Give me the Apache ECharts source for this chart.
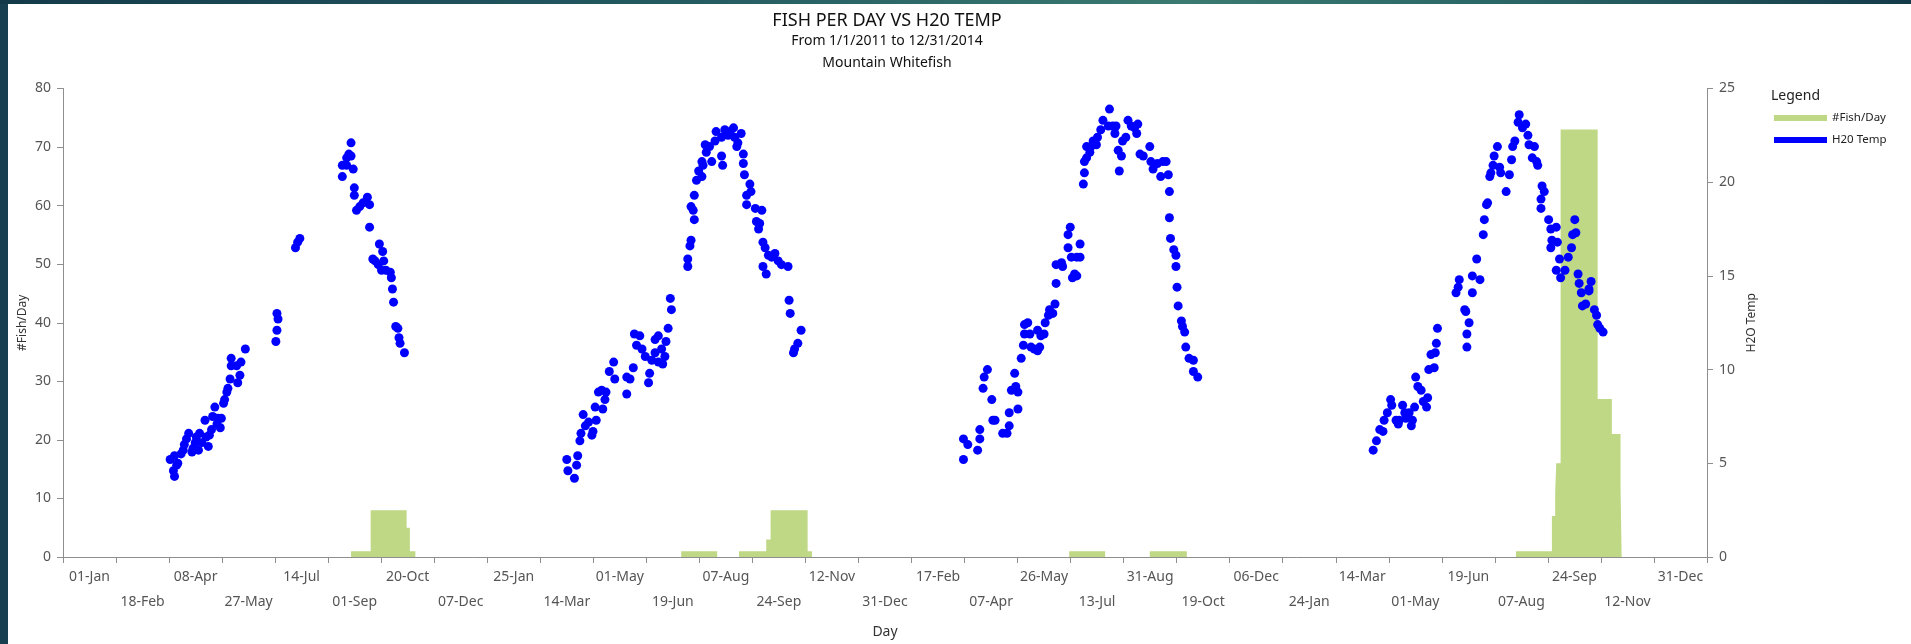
<!DOCTYPE html>
<html>
<head>
<meta charset="utf-8">
<script src="https://cdn.jsdelivr.net/npm/echarts@6/dist/echarts.min.js"></script>
<style>
html,body{margin:0;padding:0;width:1911px;height:644px;overflow:hidden;background:#173f4f;}
#topbar{position:absolute;left:0;top:0;width:1911px;height:4px;background:linear-gradient(to right,#143a4a 0%,#245a62 35%,#3a7a70 62%,#2a6466 80%,#143a4a 100%);}
#paper{position:absolute;left:8px;top:4px;width:1903px;height:640px;background:#ffffff;}
#chart{position:absolute;left:0;top:0;width:1911px;height:644px;}
</style>
</head>
<body>
<div id="topbar"></div>
<div id="paper"></div>
<div id="chart"></div>
<script>
// ---- Tick labels of the Day axis (one per band, every 1460/30 days from 01-Jan-2011) ----
const xTickLabels = ['01-Jan','18-Feb','08-Apr','27-May','14-Jul','01-Sep','20-Oct','07-Dec',
  '25-Jan','14-Mar','01-May','19-Jun','07-Aug','24-Sep','12-Nov','31-Dec',
  '17-Feb','07-Apr','26-May','13-Jul','31-Aug','19-Oct','06-Dec',
  '24-Jan','14-Mar','01-May','19-Jun','07-Aug','24-Sep','12-Nov','31-Dec'];
const startYear = 2011;
const totalDays = 1460; // 01-Jan-2011 .. 31-Dec-2014

// ---- H20 Temp readings: [days after 1 Jan of the year, temperature] ----
const temp2011 = [[78,4.3],[77,4.6],[80,4.9],[74,5.2],[81,5.0],[78,5.4],[84,5.5],[86,5.7],[87,6.0],[89,6.3],
  [91,6.6],[94,5.6],[95,5.8],[97,6.1],[98,6.4],[100,5.7],[101,6.6],[103,6.1],[106,7.3],[107,6.4],
  [109,5.9],[110,6.5],[112,6.8],[113,7.5],[115,8.0],[117,7.1],[118,7.4],[120,6.9],[121,7.4],[123,8.2],
  [124,8.4],[126,8.8],[127,9.0],[129,9.5],[130,10.2],[130,10.6],[135,10.2],[136,9.3],[138,9.7],[139,10.4],
  [143,11.1],[172,13.0],[173,12.7],[172,12.1],[171,11.5],[189,16.5],[191,16.8],[193,17.0],[240,22.1],[238,21.5],
  [240,21.4],[236,21.3],[232,20.9],[236,20.9],[242,20.7],[232,20.3],[243,19.7],[243,19.3],[255,19.2],[251,18.9],
  [257,18.8],[248,18.7],[245,18.5],[257,17.6],[266,16.7],[269,16.3],[260,15.9],[262,15.8],[265,15.6],[270,15.8],
  [268,15.3],[272,15.3],[276,15.2],[277,14.9],[278,14.3],[279,13.6],[281,12.3],[283,12.2],[284,11.7],[285,11.4],[289,10.9]];
const temp2012 = [[80,4.2],[74,4.6],[82,4.9],[73,5.2],[83,5.4],[85,6.2],[86,6.6],[90,7.0],[88,7.6],[93,7.2],
  [96,6.5],[97,6.7],[100,7.3],[99,8.0],[102,8.8],[105,8.9],[108,8.4],[106,7.9],[109,8.8],[112,9.9],
  [116,10.4],[117,9.5],[128,8.7],[128,9.6],[131,9.5],[134,10.1],[135,11.9],[140,11.8],[137,11.3],[142,11.1],
  [145,10.7],[149,9.8],[148,9.3],[151,10.5],[154,11.6],[157,11.8],[154,10.9],[157,10.4],[160,11.1],[163,10.7],
  [161,10.3],[164,11.5],[166,12.2],[168,13.8],[169,13.2],[184,15.5],[184,15.9],[186,16.6],[187,16.9],[190,18.0],
  [189,18.5],[187,18.7],[190,19.3],[192,20.1],[197,20.3],[194,20.6],[197,21.1],[198,20.9],[201,21.6],[200,22.0],
  [204,21.9],[206,21.1],[209,22.2],[210,22.7],[215,22.4],[218,22.8],[221,22.5],[223,22.7],[226,22.9],[227,22.4],
  [230,22.1],[233,22.6],[229,21.9],[215,21.4],[216,20.9],[235,21.5],[235,21.0],[236,20.4],[241,19.9],[242,19.5],
  [238,19.3],[238,18.8],[246,18.6],[252,18.5],[247,17.9],[250,17.8],[249,17.5],[253,16.8],[255,16.5],[258,16.1],
  [261,16.0],[264,16.2],[267,15.8],[270,15.6],[276,15.5],[253,15.5],[256,15.1],[277,13.7],[278,13.0],[288,12.1],
  [285,11.4],[282,11.1],[281,10.9]];
const temp2013 = [[71,5.2],[71,6.3],[75,6.0],[84,5.7],[86,6.3],[86,6.8],[89,9.0],[90,9.6],[93,10.0],[97,8.4],
  [98,7.3],[100,7.3],[107,6.6],[111,6.6],[113,7.0],[113,7.7],[115,8.9],[118,9.8],[119,9.1],[121,8.8],
  [121,7.9],[124,10.6],[126,11.3],[127,11.9],[127,12.4],[130,12.5],[132,11.9],[133,11.2],[136,11.1],[139,11.0],
  [141,11.2],[139,12.1],[142,11.8],[145,11.9],[146,12.5],[149,12.9],[150,13.2],[153,13.0],[155,13.5],[156,14.6],
  [156,15.6],[161,15.7],[162,15.5],[167,16.5],[167,17.2],[169,17.6],[170,16.0],[175,16.0],[178,16.0],[178,16.7],
  [171,14.9],[173,15.1],[175,15.0],[181,19.9],[182,20.5],[182,21.1],[184,21.3],[184,21.9],[187,21.6],[188,21.9],
  [190,22.2],[193,22.0],[194,22.4],[197,22.8],[199,23.3],[204,23.0],[205,23.9],[208,23.0],[211,23.0],[210,22.6],
  [213,21.7],[216,21.4],[214,20.6],[217,22.2],[220,22.4],[222,23.3],[225,23.0],[228,22.9],[230,22.6],[231,23.1],
  [233,21.5],[236,21.4],[242,21.9],[243,21.1],[245,20.7],[249,21.0],[252,20.3],[254,21.1],[257,21.1],[259,20.4],
  [260,19.5],[260,18.1],[261,17.0],[264,16.4],[266,16.1],[266,15.5],[267,14.4],[268,13.4],[271,12.6],[272,12.3],
  [274,12.0],[275,11.2],[278,10.6],[282,10.5],[282,9.9],[286,9.6]];
const temp2014 = [[82,5.7],[85,6.2],[88,6.8],[91,6.7],[92,7.3],[95,7.7],[98,8.4],[99,8.1],[103,7.3],[105,7.1],
  [106,7.3],[109,8.1],[111,7.7],[112,7.4],[115,7.7],[117,7.0],[118,7.3],[120,8.0],[121,9.6],[123,9.1],
  [126,8.9],[128,8.3],[131,8.0],[132,8.5],[133,10.0],[135,10.8],[138,10.1],[139,10.9],[140,11.4],[141,12.2],
  [158,14.1],[160,14.4],[161,14.8],[166,13.2],[167,13.1],[168,11.9],[168,11.2],[170,12.5],[173,14.1],[173,15.0],
  [177,15.9],[180,14.8],[183,17.2],[184,18.0],[186,18.8],[187,18.9],[189,20.3],[190,20.5],[192,20.9],[193,21.4],
  [196,21.9],[198,20.8],[199,20.5],[204,19.5],[207,20.4],[209,21.2],[210,21.9],[212,22.2],[215,23.2],[216,23.6],
  [219,22.9],[222,23.1],[224,22.5],[225,22.0],[230,21.9],[228,21.3],[232,21.1],[233,20.9],[237,19.8],[239,19.5],
  [236,19.1],[236,18.6],[243,18.0],[245,17.5],[250,17.6],[246,16.9],[245,16.5],[251,16.8],[253,15.9],[250,15.3],
  [254,14.9],[258,15.3],[261,16.0],[264,16.5],[265,17.2],[268,17.3],[267,18.0],[270,15.1],[271,14.6],[273,14.1],
  [274,13.4],[277,13.5],[280,14.3],[282,14.7],[280,14.2],[285,13.2],[287,12.9],[288,12.4],[290,12.2],[293,12.0]];

// ---- #Fish/Day: [first day, end day (days after 1 Jan), fish per day] ----
const fish2011 = [[240,258,1],[258,291,8],[291,294,5],[294,299,1]];
const fish2012 = [[178,211,1],[211,231,0],[231,256,1],[256,260,3],[260,294,8],[294,298,1]];
const fish2013 = [[168,201,1],[201,242,0],[242,276,1]];
const fish2014 = [[213,246,1],[246,249,7],[249,250,11],[250,254,16],[254,288,73],[288,301,27],[301,309,21],[309,310,12]];

const seriesColors = {fish:'#bfd885', temp:'#0000ff'};

function yearOffset(y){ return (Date.UTC(y,0,1) - Date.UTC(startYear,0,1)) / 86400000; }
const tempByYear = {2011:temp2011, 2012:temp2012, 2013:temp2013, 2014:temp2014};
const fishByYear = {2011:fish2011, 2012:fish2012, 2013:fish2013, 2014:fish2014};

const tempData = [];
Object.keys(tempByYear).forEach(function(y){
  const off = yearOffset(+y);
  tempByYear[y].forEach(function(p){ tempData.push([off + p[0], p[1]]); });
});
const fishData = [];
Object.keys(fishByYear).forEach(function(y){
  const off = yearOffset(+y);
  const bins = fishByYear[y];
  bins.forEach(function(b){ fishData.push([off + b[0], b[2]]); });
  fishData.push([off + bins[bins.length-1][1], 0]);
});

const step = totalDays / (xTickLabels.length - 1);
const FONT = 'Noto Sans';
const axisGrey = '#8e8e8e';
const labelGrey = '#555555';

const chart = echarts.init(document.getElementById('chart'), null, {renderer:'canvas'});
chart.setOption({
  animation: false,
  backgroundColor: 'transparent',
  textStyle: {fontFamily: FONT},
  graphic: [
    {type:'text', x: 887, y: 21, style:{text:'FISH PER DAY VS H20 TEMP', font:'18px "Noto Sans"', fill:'#111', align:'center', verticalAlign:'middle', textAlign:'center', textVerticalAlign:'middle'}},
    {type:'text', x: 887, y: 41, style:{text:'From 1/1/2011 to 12/31/2014', font:'14px "Noto Sans"', fill:'#111', align:'center', verticalAlign:'middle', textAlign:'center', textVerticalAlign:'middle'}},
    {type:'text', x: 887, y: 63, style:{text:'Mountain Whitefish', font:'14px "Noto Sans"', fill:'#111', align:'center', verticalAlign:'middle', textAlign:'center', textVerticalAlign:'middle'}},
    {type:'text', x: 1771, y: 96, style:{text:'Legend', font:'14px "Noto Sans"', fill:'#222', align:'left', verticalAlign:'middle', textAlign:'left', textVerticalAlign:'middle'}}
  ],
  legend: {
    orient: 'vertical',
    left: 1774,
    top: 111,
    padding: 0,
    itemWidth: 53,
    itemHeight: 6,
    itemGap: 8,
    textStyle: {fontFamily: FONT, fontSize: 11.5, color: '#222', lineHeight: 14},
    data: [
      {name:'#Fish/Day', icon:'rect', itemStyle:{color: seriesColors.fish}},
      {name:'H20 Temp', icon:'rect', itemStyle:{color: seriesColors.temp}}
    ]
  },
  grid: {left: 63, right: 204, top: 88.5, bottom: 84.5, containLabel: false},
  xAxis: [
    {
      type: 'category',
      data: xTickLabels,
      boundaryGap: true,
      name: 'Day',
      nameLocation: 'middle',
      nameGap: 68,
      nameTextStyle: {fontFamily: FONT, fontSize: 14, color: '#333'},
      axisLine: {show: true, onZero: false, lineStyle: {color: axisGrey, width: 1}},
      axisTick: {show: true, length: 6, lineStyle: {color: axisGrey}},
      axisLabel: {
        interval: 0, margin: 8, fontFamily: FONT, fontSize: 14, color: labelGrey, lineHeight: 25,
        formatter: function(v, i){ return i % 2 ? '\n' + v : v; }
      },
      splitLine: {show: false}
    },
    {
      type: 'value',
      show: false,
      min: -step / 2,
      max: totalDays + step / 2,
      axisLine: {onZero: false},
      splitLine: {show: false}
    }
  ],
  yAxis: [
    {
      type: 'value', min: 0, max: 80, interval: 10,
      name: '#Fish/Day', nameLocation: 'middle', nameGap: 34, nameMoveOverlap: false,
      nameTextStyle: {fontFamily: FONT, fontSize: 12, color: '#333'},
      axisLine: {show: true, onZero: false, lineStyle: {color: axisGrey}},
      axisTick: {show: true, length: 6, lineStyle: {color: axisGrey}},
      axisLabel: {margin: 12, fontFamily: FONT, fontSize: 14, color: labelGrey},
      splitLine: {show: false}
    },
    {
      type: 'value', min: 0, max: 25, interval: 5, position: 'right',
      name: 'H2O Temp', nameLocation: 'middle', nameGap: 38,
      nameTextStyle: {fontFamily: FONT, fontSize: 12, color: '#333'},
      axisLine: {show: true, onZero: false, lineStyle: {color: axisGrey}},
      axisTick: {show: true, length: 6, lineStyle: {color: axisGrey}},
      axisLabel: {margin: 12, fontFamily: FONT, fontSize: 14, color: labelGrey},
      splitLine: {show: false}
    }
  ],
  series: [
    {
      name: '#Fish/Day',
      type: 'line',
      xAxisIndex: 1, yAxisIndex: 0,
      step: 'end',
      symbol: 'none',
      data: fishData,
      lineStyle: {width: 0, opacity: 0},
      itemStyle: {color: seriesColors.fish},
      areaStyle: {color: seriesColors.fish, opacity: 1},
      z: 1
    },
    {
      name: 'H20 Temp',
      type: 'scatter',
      xAxisIndex: 1, yAxisIndex: 1,
      symbol: 'circle',
      symbolSize: 9,
      data: tempData,
      itemStyle: {color: seriesColors.temp, opacity: 1},
      z: 3
    }
  ]
});
</script>
</body>
</html>
